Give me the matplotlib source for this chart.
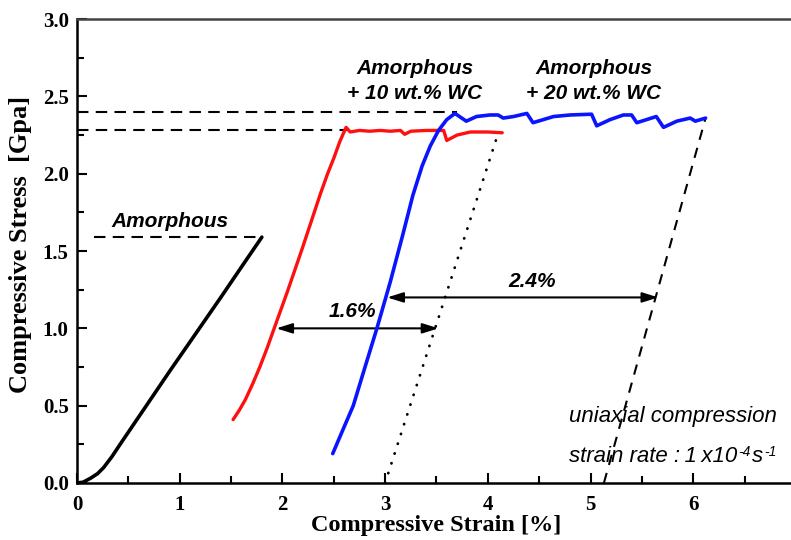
import numpy as np
import matplotlib.pyplot as plt
import matplotlib.ticker as mticker

# Amorphous (black)
amor_strain = [0, 0.06, 0.13, 0.20, 0.26, 0.34, 0.42, 0.66, 0.91, 1.15, 1.40, 1.62, 1.80]
amor_stress = [0, 0.005, 0.03, 0.06, 0.10, 0.17, 0.25, 0.485, 0.73, 0.96, 1.20, 1.415, 1.59]

# Amorphous + 10 wt.% WC (red)
wc10_strain = [1.52, 1.58, 1.64, 1.71, 1.78, 1.85, 1.92, 2.05, 2.19, 2.28, 2.37,
               2.44, 2.50, 2.56, 2.62, 2.66, 2.75, 2.85, 2.95, 3.05, 3.15, 3.19,
               3.25, 3.40, 3.57, 3.60, 3.70, 3.83, 4.00, 4.14]
wc10_stress = [0.41, 0.47, 0.54, 0.64, 0.75, 0.87, 1.00, 1.24, 1.51, 1.69, 1.87,
               2.00, 2.10, 2.21, 2.30, 2.27, 2.28, 2.275, 2.28, 2.275, 2.28, 2.255,
               2.275, 2.28, 2.28, 2.215, 2.25, 2.27, 2.27, 2.265]

# Amorphous + 20 wt.% WC (blue)
wc20_strain = [2.49, 2.58, 2.69, 2.80, 2.92, 3.05, 3.17, 3.27, 3.36, 3.44, 3.52,
               3.60, 3.68, 3.79, 3.89, 4.02, 4.10, 4.15, 4.25, 4.38, 4.44, 4.64,
               4.80, 5.01, 5.06, 5.19, 5.32, 5.40, 5.45, 5.64, 5.71, 5.84, 5.97,
               6.02, 6.12]
wc20_stress = [0.19, 0.33, 0.50, 0.74, 1.00, 1.30, 1.60, 1.86, 2.05, 2.18, 2.28,
               2.35, 2.39, 2.34, 2.37, 2.38, 2.38, 2.36, 2.37, 2.39, 2.33, 2.37,
               2.38, 2.385, 2.31, 2.35, 2.38, 2.38, 2.33, 2.37, 2.30, 2.34, 2.36,
               2.34, 2.36]

# guide lines
dotted_x = [3.00, 4.10]
dotted_y = [0.0, 2.26]
dashed_x = [5.13, 6.12]
dashed_y = [0.0, 2.36]
peak_levels = [(0.0, 3.70, 2.40), (0.0, 2.63, 2.28), (0.17, 1.80, 1.59)]

fig = plt.figure(figsize=(7.91, 5.40), dpi=100)
ax = fig.add_axes([0.0973, 0.1056, 0.909, 0.859])

for x0, x1, y in peak_levels:
    ax.plot([x0, x1], [y, y], color="black", lw=1.5, ls=(0, (5.5, 3.5)), zorder=2)

ax.plot(dotted_x, dotted_y, color="black", lw=2.0, ls=(0, (0.1, 3.6)),
        dash_capstyle="round", zorder=2)
ax.plot(dashed_x, dashed_y, color="black", lw=1.5, ls=(0, (5, 4)), zorder=3)

kw = dict(solid_joinstyle="round", solid_capstyle="round")
ax.plot(amor_strain, amor_stress, color="black", lw=2.6, zorder=4, **kw)
ax.plot(wc10_strain, wc10_stress, color="#ff1010", lw=2.4, zorder=4, **kw)
ax.plot(wc20_strain, wc20_stress, color="#0a14ff", lw=2.6, zorder=5, **kw)

arrow = dict(arrowstyle="<|-|>,head_length=0.8,head_width=0.25", color="black",
             lw=1.5, mutation_scale=12, shrinkA=0, shrinkB=0)
ax.annotate("", xy=(1.94, 1.0), xytext=(3.52, 1.0), arrowprops=arrow)
ax.annotate("", xy=(3.02, 1.2), xytext=(5.66, 1.2), arrowprops=arrow)

bi = dict(family="Liberation Sans", weight="bold", style="italic", fontsize=15)
ax.text(2.68, 1.11, "1.6%", ha="center", va="center", **bi)
ax.text(4.43, 1.30, "2.4%", ha="center", va="center", **bi)
ax.text(0.91, 1.69, "Amorphous", ha="center", va="center", **bi)
ax.text(3.29, 2.68, "Amorphous", ha="center", va="center", **bi)
ax.text(3.29, 2.52, "+ 10 wt.% WC", ha="center", va="center", **bi)
ax.text(5.03, 2.68, "Amorphous", ha="center", va="center", **bi)
ax.text(5.03, 2.52, "+ 20 wt.% WC", ha="center", va="center", **bi)

fam = ["Liberation Sans", "DejaVu Sans"]
it = dict(family=fam, style="italic", fontsize=16, zorder=1)
sup = dict(family=fam, style="italic", fontsize=10, zorder=1,
           textcoords="offset points", ha="left", va="baseline")
ax.text(4.79, 0.43, "uniaxial compression", ha="left", va="center", **it)
t1 = ax.text(4.79, 0.135, "strain rate :\u20091\u2009x10", ha="left", va="baseline", **it)
t2 = ax.annotate("-4", xy=(1, 0), xycoords=t1, xytext=(0.5, 8), **sup)
t3 = ax.annotate("s", xy=(1, 0), xycoords=(t2, t1), xytext=(1.5, 0),
                 textcoords="offset points", ha="left", va="bottom",
                 family=fam, style="italic", fontsize=16, zorder=1)
ax.annotate("-1", xy=(1, 0), xycoords=(t3, t1), xytext=(0.5, 8), **sup)

ax.set_xlim(0, 7)
ax.set_ylim(0, 3.0)
ax.xaxis.set_major_locator(mticker.MultipleLocator(1))
ax.xaxis.set_minor_locator(mticker.MultipleLocator(0.5))
ax.yaxis.set_major_locator(mticker.MultipleLocator(0.5))
ax.yaxis.set_minor_locator(mticker.MultipleLocator(0.25))
ax.yaxis.set_major_formatter(mticker.FormatStrFormatter("%.1f"))
ax.tick_params(which="both", direction="in", top=False, right=False, width=1.5)
ax.tick_params(which="major", length=7)
ax.tick_params(which="minor", length=5)
ax.tick_params(axis="x", which="major", pad=9)
ax.tick_params(axis="y", which="major", pad=6)
for lab in ax.get_xticklabels() + ax.get_yticklabels():
    lab.set_family("Liberation Serif")
    lab.set_weight("bold")
    lab.set_fontsize(15)

for s in ax.spines.values():
    s.set_linewidth(1.8)
ax.spines["top"].set_color("#444444")

ax.set_xlabel("Compressive Strain [%]", family="Liberation Serif", weight="bold",
              fontsize=17.5, labelpad=0)
ax.set_ylabel("Compressive Stress  [Gpa]", family="Liberation Serif", weight="bold",
              fontsize=19)
ax.yaxis.set_label_coords(-0.062, 0.515)

fig.savefig("out.png", dpi=100)
